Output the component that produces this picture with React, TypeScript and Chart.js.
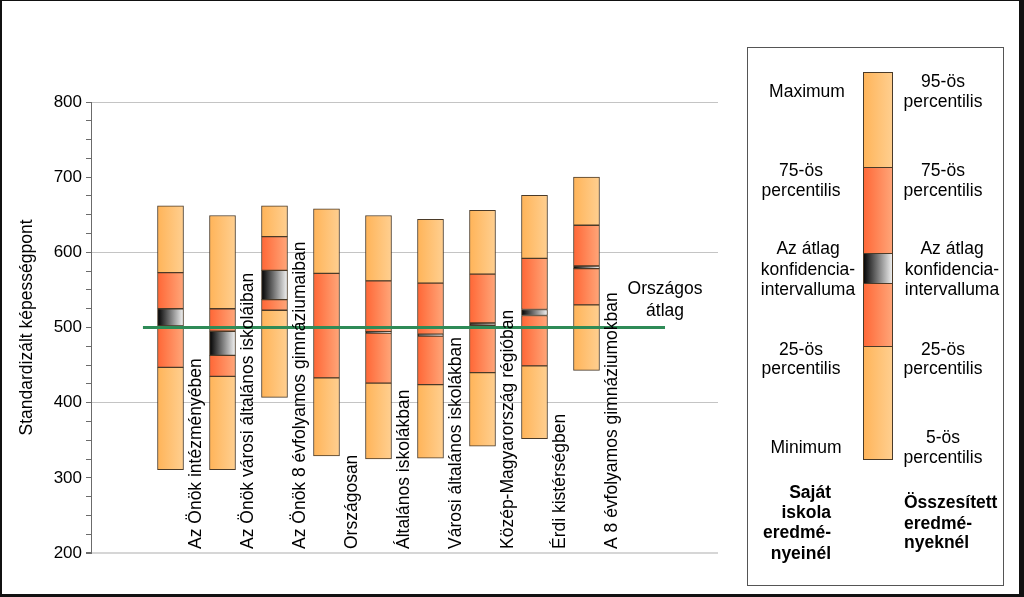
import React, { useEffect, useRef } from 'react';
import { Chart, registerables } from 'chart.js';

Chart.register(...registerables);

// ---------------- data ----------------
const categories = [
  'Az Önök intézményében',
  'Az Önök városi általános iskoláiban',
  'Az Önök 8 évfolyamos gimnáziumaiban',
  'Országosan',
  'Általános iskolákban',
  'Városi általános iskolákban',
  'Közép-Magyarország régióban',
  'Érdi kistérségben',
  'A 8 évfolyamos gimnáziumokban',
];
const minimum = [311, 311, 407, 329, 325, 326, 342, 352, 443];
const p25 = [447, 435, 523, 433, 426, 424, 440, 449, 530];
const ciLow = [502, 463, 537, 499, 492.5, 488.7, 503, 516, 578.3];
const ciHigh = [525, 495, 576, 501, 494.5, 491, 506, 524, 581.8];
const p75 = [573, 525, 621, 572, 562, 559, 571, 592, 636];
const maximum = [662, 649, 662, 658, 649, 644, 656, 676, 700];

const nationalAverage = 500;
const nationalAverageLabel = ['Országos', 'átlag'];
const avgLineFromX = -0.53;
const avgLineToX = 9.51;

const yTitle = 'Standardizált képességpont';
const yMin = 200;
const yMax = 800;
const yStep = 25;
const yLabelEvery = 100;
const yGridEvery = 200;

const legendLeft = [
  ['Maximum'],
  ['75-ös', 'percentilis'],
  ['Az átlag', 'konfidencia-', 'intervalluma'],
  ['25-ös', 'percentilis'],
  ['Minimum'],
];
const legendRight = [
  ['95-ös', 'percentilis'],
  ['75-ös', 'percentilis'],
  ['Az átlag', 'konfidencia-', 'intervalluma'],
  ['25-ös', 'percentilis'],
  ['5-ös', 'percentilis'],
];
const legendLeftTitle = ['Saját', 'iskola', 'eredmé-', 'nyeinél'];
const legendRightTitle = ['Összesített', 'eredmé-', 'nyeknél'];

// ---------------- styles ----------------
const FONT = '"Liberation Sans", Arial, sans-serif';
const LIGHT: [string, string] = ['#FFB459', '#FFCF90'];
const RED: [string, string] = ['#FF6736', '#FFA679'];
const CIC: [string, string] = ['#000000', '#F4F4F4'];
const EDGE = '#4a3a28';
const GREEN = '#2E8B57';
const BAR_W = 26;

function hgrad(ctx: CanvasRenderingContext2D, x0: number, x1: number, pair: [string, string]) {
  const g = ctx.createLinearGradient(x0, 0, x1, 0);
  g.addColorStop(0, pair[0]);
  g.addColorStop(1, pair[1]);
  return g;
}

const bg = (pair: [string, string]) => (c: any) => {
  const chart = c.chart;
  const xs = chart.scales && chart.scales.x;
  if (!xs || c.dataIndex === undefined) return pair[0];
  const cx = xs.getPixelForValue(c.dataIndex);
  if (!isFinite(cx)) return pair[0];
  return hgrad(chart.ctx, cx - BAR_W / 2, cx + BAR_W / 2, pair);
};

function segment(lo: number[], hi: number[], pair: [string, string]) {
  return {
    type: 'bar' as const,
    data: categories.map((_, i) => ({ x: i, y: [lo[i], hi[i]] })),
    backgroundColor: bg(pair),
    borderColor: EDGE,
    borderWidth: 1,
    borderSkipped: false,
    grouped: false,
    barThickness: BAR_W,
    order: 1,
  };
}

function textLines(ctx: CanvasRenderingContext2D, lines: string[], x: number, ys: number[], align: CanvasTextAlign) {
  ctx.textAlign = align;
  lines.forEach((l, i) => ctx.fillText(l, x, ys[i]));
}

const decorPlugin = {
  id: 'decor',
  afterDraw(chart: any) {
    const ctx: CanvasRenderingContext2D = chart.ctx;
    const xs = chart.scales.x;
    const ys = chart.scales.y;
    const area = chart.chartArea;
    ctx.save();

    // category labels, rotated, inside plot
    ctx.fillStyle = '#000';
    ctx.font = `17.5px ${FONT}`;
    ctx.textBaseline = 'middle';
    categories.forEach((label, i) => {
      const x = xs.getPixelForValue(i + 0.5);
      ctx.save();
      ctx.translate(x, area.bottom - 4);
      ctx.rotate(-Math.PI / 2);
      ctx.textAlign = 'left';
      ctx.fillText(label, 0, 0);
      ctx.restore();
    });

    // national average label
    const ax = xs.getPixelForValue(avgLineToX);
    const ay = ys.getPixelForValue(nationalAverage);
    ctx.textAlign = 'center';
    ctx.fillText(nationalAverageLabel[0], ax, ay - 38);
    ctx.fillText(nationalAverageLabel[1], ax, ay - 16);

    // y title
    ctx.save();
    ctx.translate(27, (area.top + area.bottom) / 2);
    ctx.rotate(-Math.PI / 2);
    ctx.textAlign = 'center';
    ctx.fillText(yTitle, 0, 0);
    ctx.restore();

    // legend box
    ctx.strokeStyle = '#555';
    ctx.lineWidth = 1;
    ctx.strokeRect(747.5, 47.5, 256, 538);

    // legend bar
    const bx0 = 863, bx1 = 893;
    const segs: [number, number, [string, string]][] = [
      [72, 167, LIGHT],
      [167, 253, RED],
      [253, 283, CIC],
      [283, 346, RED],
      [346, 459, LIGHT],
    ];
    segs.forEach(([t, b, pair]) => {
      ctx.fillStyle = hgrad(ctx, bx0, bx1, pair);
      ctx.fillRect(bx0, t, bx1 - bx0, b - t);
      ctx.strokeStyle = EDGE;
      ctx.strokeRect(bx0 + 0.5, t + 0.5, bx1 - bx0 - 1, b - t);
    });

    ctx.fillStyle = '#000';
    ctx.font = `17.5px ${FONT}`;
    ctx.textBaseline = 'middle';
    textLines(ctx, legendLeft[0], 807, [91.7], 'center');
    textLines(ctx, legendLeft[1], 801, [171, 190.7], 'center');
    textLines(ctx, legendLeft[2], 808, [249.3, 270, 290], 'center');
    textLines(ctx, legendLeft[3], 801, [350, 369.3], 'center');
    textLines(ctx, legendLeft[4], 806, [447.7], 'center');

    textLines(ctx, legendRight[0], 943, [81.7, 101.7], 'center');
    textLines(ctx, legendRight[1], 943, [171, 190.7], 'center');
    textLines(ctx, legendRight[2], 952, [249.3, 270, 290], 'center');
    textLines(ctx, legendRight[3], 943, [350, 369.3], 'center');
    textLines(ctx, legendRight[4], 943, [438.3, 458.3], 'center');

    ctx.font = `bold 17.5px ${FONT}`;
    textLines(ctx, legendLeftTitle, 831, [492.7, 513.3, 533.3, 554], 'right');
    textLines(ctx, legendRightTitle, 904, [503.3, 524, 543.3], 'left');

    // outer frame
    ctx.fillStyle = '#111';
    ctx.fillRect(0, 0, 2, 597);
    ctx.fillRect(0, 0, 1024, 1);
    ctx.fillRect(1019, 0, 5, 597);
    ctx.fillRect(0, 594, 1024, 3);

    ctx.restore();
  },
};

export default function App() {
  const ref = useRef<HTMLCanvasElement | null>(null);

  useEffect(() => {
    if (!ref.current) return;
    const chart = new Chart(ref.current, {
      type: 'bar',
      data: {
        datasets: [
          {
            type: 'line' as const,
            data: [
              { x: avgLineFromX, y: nationalAverage },
              { x: avgLineToX, y: nationalAverage },
            ],
            borderColor: GREEN,
            borderWidth: 3,
            pointRadius: 0,
            fill: false,
            order: 0,
          } as any,
          segment(minimum, p25, LIGHT),
          segment(p25, ciLow, RED),
          segment(ciLow, ciHigh, CIC),
          segment(ciHigh, p75, RED),
          segment(p75, maximum, LIGHT),
        ] as any,
      },
      options: {
        responsive: false,
        animation: false,
        events: [],
        layout: { padding: { left: 0, top: 102, right: 306, bottom: 44 } },
        plugins: { legend: { display: false }, tooltip: { enabled: false } },
        scales: {
          x: {
            type: 'linear',
            display: false,
            offset: false,
            bounds: 'ticks',
            min: -1.529,
            max: 10.529,
          },
          y: {
            type: 'linear',
            min: yMin,
            max: yMax,
            afterFit: (s: any) => {
              s.width = 91;
            },
            border: { display: true, color: '#6b6b6b', width: 1 },
            grid: {
              drawTicks: true,
              tickLength: 5,
              tickColor: '#6b6b6b',
              color: (c: any) =>
                c.tick && c.tick.value % yGridEvery === 0 ? (c.tick.value === yMin ? '#d6d6d6' : '#c4c4c4') : 'rgba(0,0,0,0)',
              lineWidth: (c: any) => (c.tick && c.tick.value === yMin ? 2 : 1),
            },
            ticks: {
              stepSize: yStep,
              autoSkip: false,
              padding: 4,
              color: '#000',
              font: { family: FONT, size: 17 },
              callback: (v: any) => (Number(v) % yLabelEvery === 0 ? String(v) : ''),
            },
          },
        },
      },
      plugins: [decorPlugin],
    } as any);
    return () => chart.destroy();
  }, []);

  return (
    <div style={{ position: 'fixed', left: 0, top: 0, width: 1024, height: 597, background: '#fff' }}>
      <canvas ref={ref} width={1024} height={597} style={{ display: 'block' }} />
    </div>
  );
}
